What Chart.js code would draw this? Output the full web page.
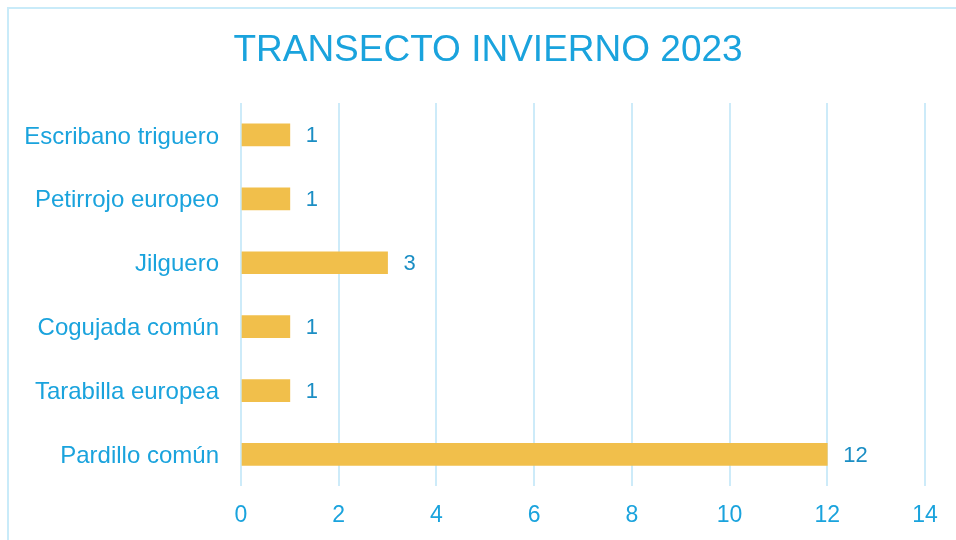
<!DOCTYPE html>
<html>
<head>
<meta charset="utf-8">
<script src="https://cdn.jsdelivr.net/npm/chart.js@4.4.0/dist/chart.umd.min.js"></script>
<style>
  html, body { margin: 0; padding: 0; background: #fff; }
  #wrap { width: 956px; height: 540px; }
</style>
</head>
<body>
<div id="wrap"><canvas id="chart" width="956" height="540"></canvas></div>
<script>
const chartTitle = "TRANSECTO INVIERNO 2023";
const species = ["Escribano triguero", "Petirrojo europeo", "Jilguero", "Cogujada común", "Tarabilla europea", "Pardillo común"];
const counts = [1, 1, 3, 1, 1, 12];
const xMin = 0;
const xMax = 14;
const xStep = 2;

const blue = "#1aa3dd";
const labelBlue = "#1b8ec4";
const gridBlue = "#cdebf9";
const font = "'Liberation Sans', Arial, sans-serif";

// frame + title drawn on the canvas
const frame = {
  id: "frame",
  beforeDraw(chart) {
    const ctx = chart.ctx;
    ctx.save();
    ctx.fillStyle = "#fff";
    ctx.fillRect(0, 0, chart.width, chart.height);
    ctx.strokeStyle = "#c9ebf9";
    ctx.lineWidth = 2;
    ctx.strokeRect(8, 8, chart.width + 20, chart.height + 20);
    ctx.fillStyle = blue;
    ctx.font = "37px " + font;
    ctx.textAlign = "center";
    ctx.textBaseline = "middle";
    ctx.fillText(chartTitle, 488, 51);
    ctx.restore();
  }
};

// value next to the end of each bar
const barValues = {
  id: "barValues",
  afterDatasetsDraw(chart) {
    const ctx = chart.ctx;
    const meta = chart.getDatasetMeta(0);
    ctx.save();
    ctx.fillStyle = labelBlue;
    ctx.font = "22px " + font;
    ctx.textAlign = "left";
    ctx.textBaseline = "middle";
    meta.data.forEach((bar, i) => {
      ctx.fillText(String(counts[i]), bar.x + 16, bar.y + 1);
    });
    ctx.restore();
  }
};

new Chart(document.getElementById("chart").getContext("2d"), {
  type: "bar",
  data: {
    labels: species,
    datasets: [{
      data: counts,
      backgroundColor: "#f1bf4b",
      borderWidth: 0,
      barThickness: 22
    }]
  },
  options: {
    indexAxis: "y",
    responsive: false,
    animation: false,
    layout: { padding: { top: 103, right: 31, bottom: -4, left: 0 } },
    plugins: {
      legend: { display: false },
      tooltip: { enabled: false }
    },
    scales: {
      x: {
        min: xMin,
        max: xMax,
        ticks: { stepSize: xStep, color: blue, font: { family: font, size: 23 }, padding: 15 },
        grid: { color: gridBlue, lineWidth: 2, drawTicks: false },
        border: { display: false }
      },
      y: {
        ticks: { color: blue, font: { family: font, size: 24 }, padding: 22, labelOffset: 2 },
        grid: { display: false, drawTicks: false },
        border: { display: false },
        afterFit(scale) { scale.width = 241; }
      }
    }
  },
  plugins: [frame, barValues]
});
</script>
</body>
</html>
